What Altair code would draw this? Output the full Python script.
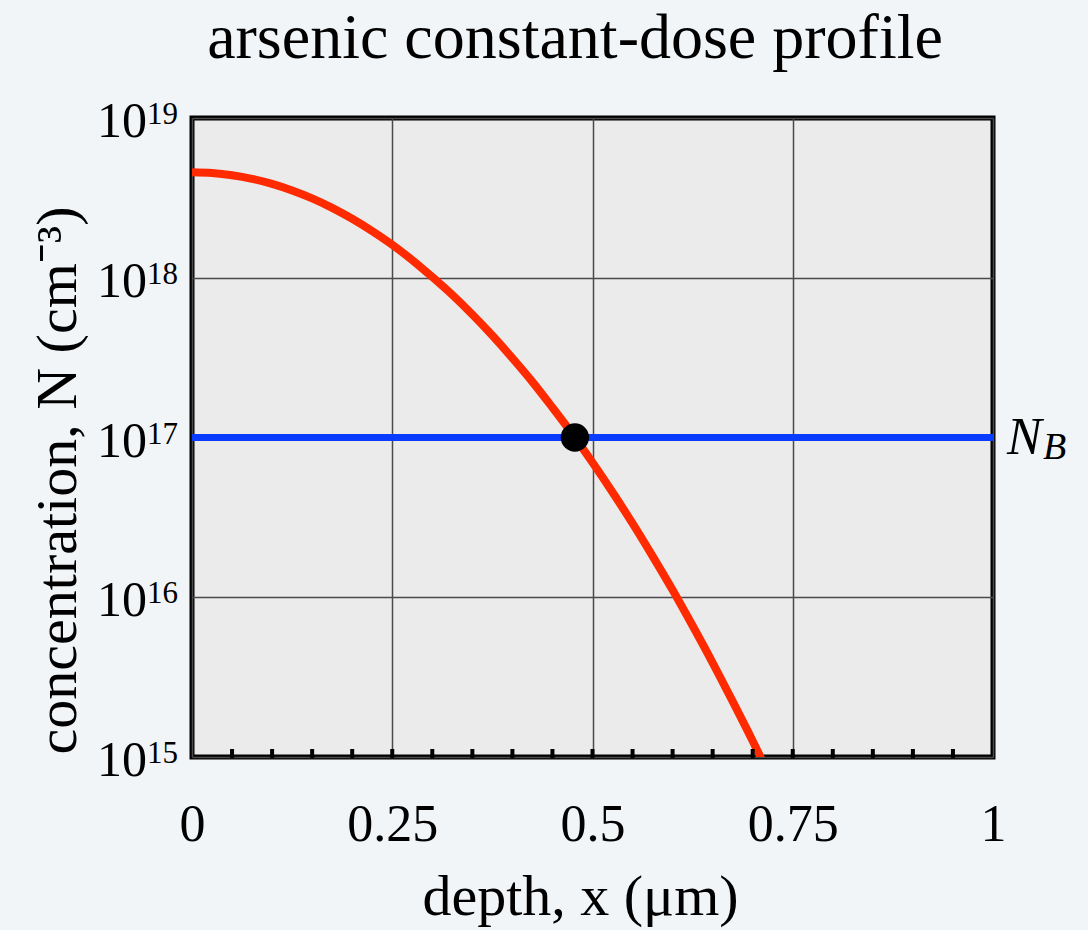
import altair as alt
import pandas as pd

# --- data ---
depth = [0.0, 0.025, 0.05, 0.075, 0.1, 0.125, 0.15, 0.175, 0.2, 0.225, 0.25, 0.275,
         0.3, 0.325, 0.35, 0.375, 0.4, 0.425, 0.45, 0.475, 0.5, 0.525, 0.55, 0.575,
         0.6, 0.625, 0.65, 0.675, 0.7, 0.725]
concentration = [4.57e18, 4.52e18, 4.38e18, 4.16e18, 3.87e18, 3.52e18, 3.14e18, 2.74e18,
                 2.34e18, 1.96e18, 1.61e18, 1.29e18, 1.01e18, 7.81e17, 5.89e17, 4.35e17,
                 3.14e17, 2.23e17, 1.54e17, 1.05e17, 6.97e16, 4.54e16, 2.90e16, 1.81e16,
                 1.11e16, 6.63e15, 3.89e15, 2.23e15, 1.26e15, 6.92e14]
background_level = 1e17          # N_B
junction_depth = 0.478           # where profile meets N_B
x_labels = [0, 0.25, 0.5, 0.75, 1]
y_exponents = [15, 16, 17, 18, 19]
minor_ticks = [0.05, 0.1, 0.15, 0.2, 0.25, 0.3, 0.35, 0.4, 0.45, 0.5, 0.55, 0.6,
               0.65, 0.7, 0.75, 0.8, 0.85, 0.9, 0.95]
title_text = ["arsenic constant-dose profile"]

FONT = "Liberation Serif"

profile = pd.DataFrame({"x": depth, "N": concentration})
nb = pd.DataFrame({"x": [0.0, 1.0], "N": [background_level] * 2})
dot = pd.DataFrame({"x": [junction_depth], "N": [background_level]})
ylab = pd.DataFrame({"N": [10.0 ** e for e in y_exponents],
                     "base": ["10"] * len(y_exponents),
                     "exp": [str(e) for e in y_exponents]})
ticks = pd.DataFrame({"x": minor_ticks})
ttl = pd.DataFrame({"t": title_text})

xscale = alt.Scale(domain=[0, 1], nice=False, zero=False)
yscale = alt.Scale(type="log", domain=[1e15, 1e19], nice=False)

xaxis = alt.Axis(values=x_labels, format="~g", ticks=False, domain=False,
                 grid=True, gridColor="#4a4a4a", gridWidth=1.5,
                 labelFont=FONT, labelFontSize=52, labelColor="black",
                 labelBaseline="alphabetic", labelPadding=83, labelFlush=False,
                 title="depth, x (μm)", titleFont=FONT, titleFontSize=58,
                 titleFontWeight="normal", titleColor="black",
                 titleBaseline="alphabetic", titleY=157, titleX=388)
yaxis = alt.Axis(values=[10.0 ** e for e in y_exponents], labels=False, ticks=False,
                 domain=False, grid=True, gridColor="#4a4a4a", gridWidth=1.5,
                 title="concentration, N (cm⁻³)", titleFont=FONT, titleFontSize=58,
                 titleFontWeight="normal", titleColor="black",
                 titleBaseline="alphabetic", titleX=-117, titleY=362, titleAngle=-90)

base = alt.Chart(profile)

curve = base.mark_line(color="#ff2a00", strokeWidth=8, clip=True,
                       interpolate="monotone").encode(
    x=alt.X("x:Q", scale=xscale, axis=xaxis),
    y=alt.Y("N:Q", scale=yscale, axis=yaxis),
)

nbline = alt.Chart(nb).mark_line(color="#0a3cff", strokeWidth=7).encode(
    x=alt.X("x:Q", scale=xscale), y=alt.Y("N:Q", scale=yscale))

point = alt.Chart(dot).mark_circle(color="black", opacity=1, size=800).encode(
    x=alt.X("x:Q", scale=xscale), y=alt.Y("N:Q", scale=yscale))

minor = alt.Chart(ticks).mark_rule(color="black", strokeWidth=4).encode(
    x=alt.X("x:Q", scale=xscale), y=alt.value(640), y2=alt.value(631))

ten = alt.Chart(ylab).mark_text(font=FONT, fontSize=50, align="right",
                                baseline="alphabetic", dy=19, color="black").encode(
    y=alt.Y("N:Q", scale=yscale), x=alt.value(-45), text="base:N")
expo = alt.Chart(ylab).mark_text(font=FONT, fontSize=31, align="right",
                                 baseline="alphabetic", dy=6, color="black").encode(
    y=alt.Y("N:Q", scale=yscale), x=alt.value(-14), text="exp:N")

nb_n = alt.Chart(dot).mark_text(font=FONT, fontSize=52, fontStyle="italic", align="left",
                                baseline="alphabetic", dx=14, dy=16, color="black").encode(
    x=alt.datum(1.0, scale=xscale), y=alt.datum(background_level, scale=yscale),
    text=alt.value("N"))
nb_b = alt.Chart(dot).mark_text(font=FONT, fontSize=38, fontStyle="italic", align="left",
                                baseline="alphabetic", dx=50, dy=21, color="black").encode(
    x=alt.datum(1.0, scale=xscale), y=alt.datum(background_level, scale=yscale),
    text=alt.value("B"))

title = alt.Chart(ttl).mark_text(font=FONT, fontSize=64, align="center",
                                 baseline="alphabetic", color="black").encode(
    x=alt.value(383), y=alt.value(-60), text="t:N")

chart = alt.layer(curve, nbline, point, minor, ten, expo, nb_n, nb_b, title).properties(
    width=801, height=639,
    autosize=alt.AutoSizeParams(type="none"),
    padding={"left": 192, "top": 118, "right": 95, "bottom": 173},
    background="#f2f5f8",
).configure_view(fill="#ebebeb", stroke="black", strokeWidth=5)

chart.save("out.html", embed_options={"renderer": "svg", "actions": False})
